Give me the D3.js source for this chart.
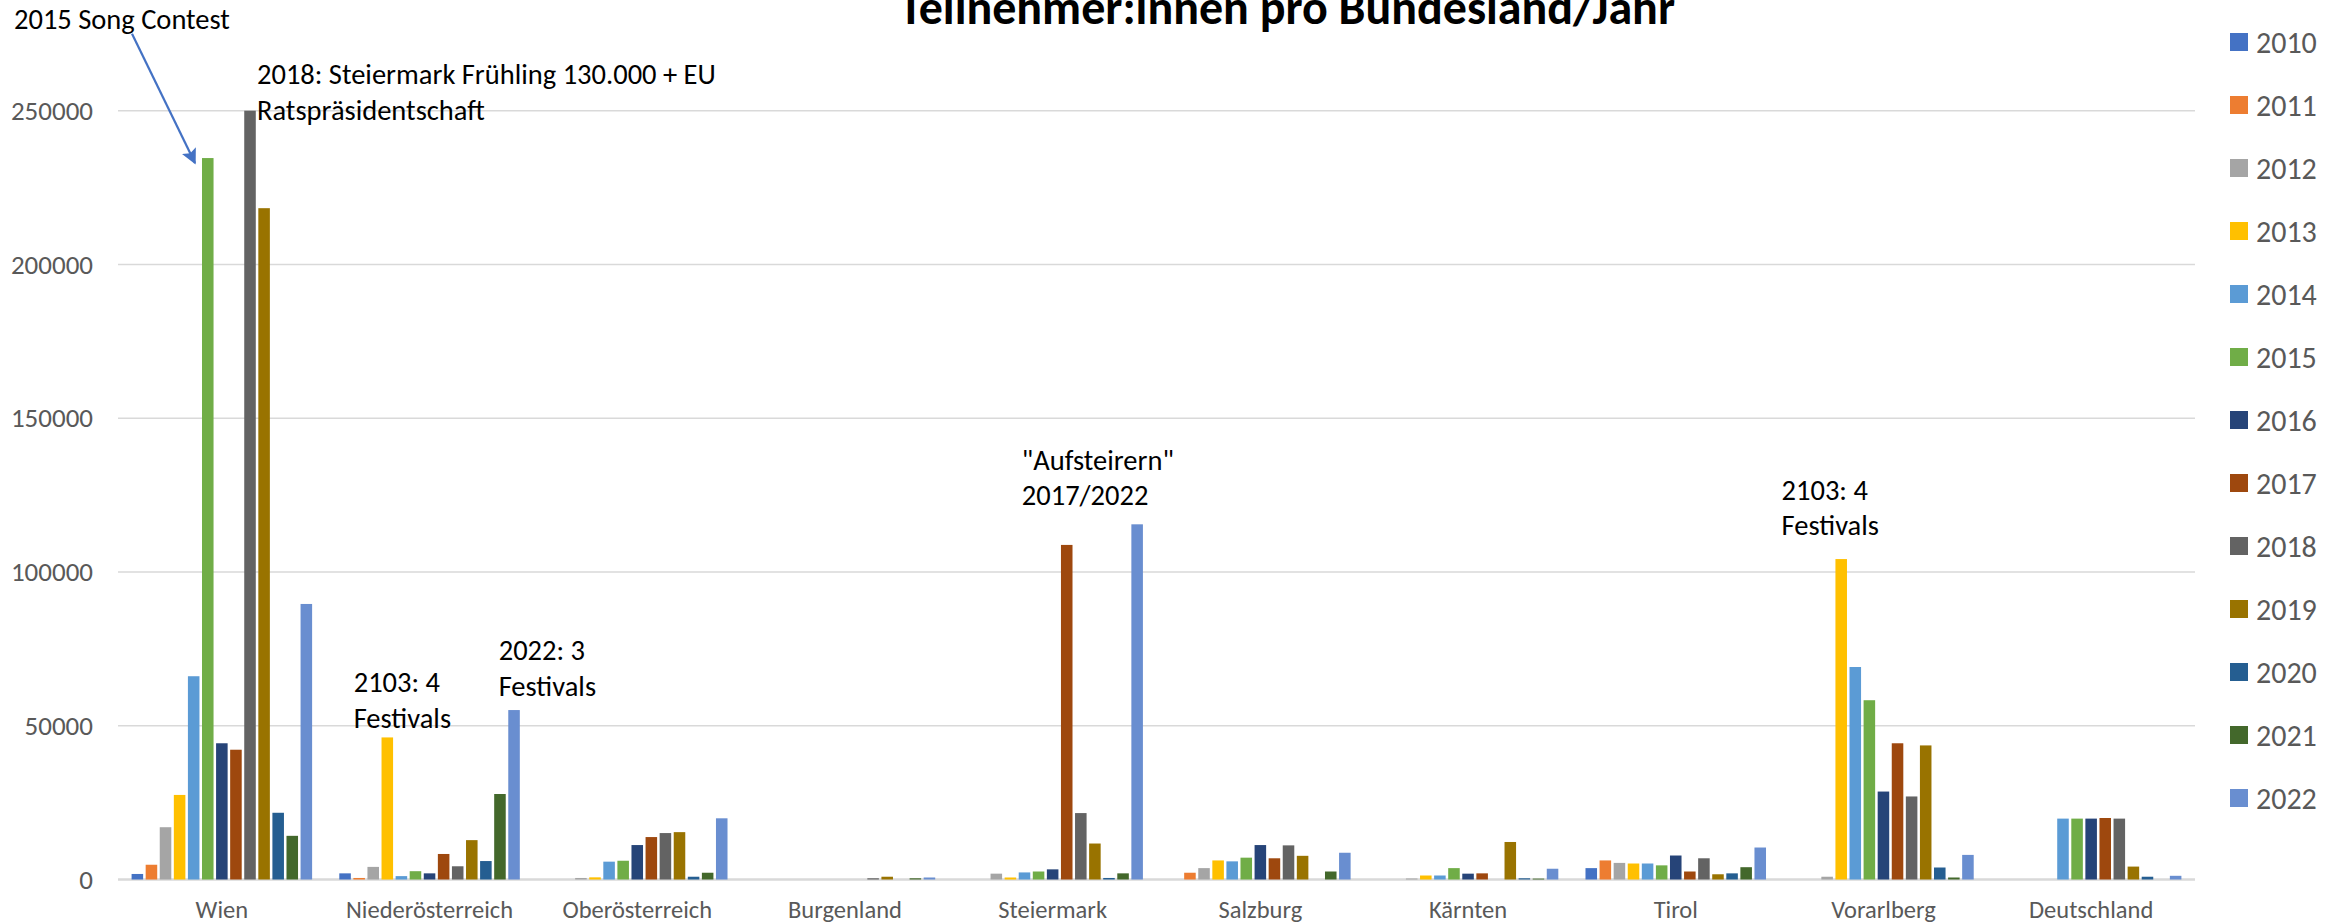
<!DOCTYPE html>
<html>
<head>
<meta charset="utf-8">
<script src="https://cdn.jsdelivr.net/npm/d3@7"></script>
<style>
  body { margin: 0; background: #fff; }
  svg text { font-family: Carlito, Lato, sans-serif; }
</style>
</head>
<body>
<div class="chart"></div>
<script>
// Data
var regions = ["Wien", "Niederösterreich", "Oberösterreich", "Burgenland", "Steiermark",
  "Salzburg", "Kärnten", "Tirol", "Vorarlberg", "Deutschland"];
var years = ["2010", "2011", "2012", "2013", "2014", "2015", "2016", "2017", "2018", "2019", "2020", "2021", "2022"];
var yTicks = [0, 50000, 100000, 150000, 200000, 250000];

// one row per year, one value per region (same order as regions)
var y2010 = [1800, 2000, 0, 0, 0, 0, 0, 3700, 0, 0];
var y2011 = [4800, 500, 0, 0, 0, 2200, 0, 6200, 0, 0];
var y2012 = [17000, 4100, 500, 0, 1900, 3700, 330, 5400, 900, 0];
var y2013 = [27500, 46200, 700, 0, 650, 6200, 1300, 5200, 104200, 0];
var y2014 = [66100, 1100, 5800, 0, 2300, 5900, 1300, 5200, 69100, 19800];
var y2015 = [234600, 2700, 6100, 0, 2600, 7100, 3700, 4600, 58300, 19800];
var y2016 = [44300, 2000, 11200, 0, 3300, 11200, 1900, 7800, 28600, 19800];
var y2017 = [42200, 8300, 13800, 0, 108800, 6900, 2000, 2600, 44300, 20000];
var y2018 = [250000, 4300, 15100, 400, 21600, 11100, 0, 6900, 27000, 19800];
var y2019 = [218300, 12800, 15400, 900, 11700, 7700, 12200, 1700, 43600, 4200];
var y2020 = [21700, 6000, 900, 0, 500, 0, 400, 2000, 3900, 900];
var y2021 = [14200, 27800, 2200, 400, 2000, 2600, 300, 4000, 650, 0];
var y2022 = [89600, 55100, 19900, 650, 115500, 8700, 3500, 10400, 8000, 1200];
var series = [y2010, y2011, y2012, y2013, y2014, y2015, y2016, y2017, y2018, y2019, y2020, y2021, y2022];

var colors = ["#4472C4", "#ED7D31", "#A5A5A5", "#FFC000", "#5B9BD5", "#70AD47", "#264478",
  "#9E480E", "#636363", "#997300", "#255E91", "#43682B", "#698ED0"];

// annotations: anchored at a region (x offset from band start) and a value (first baseline)
var notes = [
  { region: "Wien", dx: -104, value: 276500, lines: ["2015 Song Contest"] },
  { region: "Wien", dx: 139, value: 258600, lines: ["2018: Steiermark Frühling 130.000 + EU", "Ratspräsidentschaft"] },
  { region: "Niederösterreich", dx: 28, value: 60900, lines: ["2103: 4", "Festivals"] },
  { region: "Niederösterreich", dx: 173, value: 71300, lines: ["2022: 3", "Festivals"] },
  { region: "Steiermark", dx: 73, value: 133300, lines: ["\"Aufsteirern\"", "2017/2022"] },
  { region: "Vorarlberg", dx: 2, value: 123500, lines: ["2103: 4", "Festivals"] }
];

// Setup chart
var svgWidth = 2346;
var svgHeight = 924;
var margin = { top: 110.7, right: 151, bottom: 44.5, left: 118 };
var width = svgWidth - margin.left - margin.right;
var height = svgHeight - margin.top - margin.bottom;

var svg = d3.select(".chart")
  .append("svg")
  .attr("width", svgWidth)
  .attr("height", svgHeight);
var chart = svg.append("g")
  .attr("transform", "translate(" + margin.left + "," + margin.top + ")");

// Scales
var xScale = d3.scaleBand().domain(regions).range([0, width]);
var xInner = d3.scaleBand().domain(years).range([0, xScale.bandwidth()])
  .paddingInner(0.18).paddingOuter(0.965);
var yScale = d3.scaleLinear().domain([0, 250000]).range([height, 0]);

// Gridlines
chart.selectAll(".grid")
  .data(yTicks)
  .enter().append("line")
  .attr("x1", 0)
  .attr("x2", width)
  .attr("y1", function(d) { return yScale(d); })
  .attr("y2", function(d) { return yScale(d); })
  .attr("stroke", "#d9d9d9")
  .attr("stroke-width", function(d) { return d === 0 ? 2.5 : 1.5; });

// Y axis labels
var leftAxis = d3.axisLeft(yScale).tickValues(yTicks).tickFormat(d3.format("d")).tickSize(0).tickPadding(25);
var yAxis = chart.append("g").call(leftAxis);
yAxis.select(".domain").remove();
yAxis.selectAll("text")
  .attr("font-size", "27px")
  .attr("fill", "#595959");

// X axis labels
var bottomAxis = d3.axisBottom(xScale).tickSize(0).tickPadding(21);
var xAxis = chart.append("g")
  .attr("transform", "translate(0," + height + ")")
  .call(bottomAxis);
xAxis.select(".domain").remove();
xAxis.selectAll("text")
  .attr("font-size", "24.5px")
  .attr("fill", "#595959");

// Bars
var groups = chart.selectAll(".region")
  .data(regions)
  .enter().append("g")
  .attr("transform", function(d) { return "translate(" + xScale(d) + ",0)"; });

groups.selectAll("rect")
  .data(function(d, i) {
    return years.map(function(yr, j) { return { year: yr, idx: j, value: series[j][i] }; });
  })
  .enter().append("rect")
  .filter(function(d) { return d.value > 0; })
  .attr("x", function(d) { return xInner(d.year); })
  .attr("y", function(d) { return yScale(d.value); })
  .attr("width", xInner.bandwidth())
  .attr("height", function(d) { return height - yScale(d.value); })
  .attr("fill", function(d) { return colors[d.idx]; });

// Annotations
var lineGap = 35.5;
notes.forEach(function(n) {
  var t = chart.append("text")
    .attr("x", xScale(n.region) + n.dx)
    .attr("y", yScale(n.value))
    .attr("font-size", "28.5px")
    .attr("fill", "#000");
  n.lines.forEach(function(line, k) {
    t.append("tspan")
      .attr("x", xScale(n.region) + n.dx)
      .attr("dy", k === 0 ? 0 : lineGap)
      .text(line);
  });
});

// Arrow from "2015 Song Contest" to the 2015 Wien bar
svg.append("defs").append("marker")
  .attr("id", "arrowhead")
  .attr("viewBox", "0 0 10 10")
  .attr("refX", 9)
  .attr("refY", 5)
  .attr("markerWidth", 7)
  .attr("markerHeight", 7)
  .attr("orient", "auto")
  .append("path")
  .attr("d", "M0,0 L10,5 L0,10 L2,5 z")
  .attr("fill", "#4472C4");

var x2015 = xScale("Wien") + xInner("2015");
chart.append("line")
  .attr("x1", xScale("Wien") + 14)
  .attr("y1", yScale(275000))
  .attr("x2", x2015 - 7)
  .attr("y2", yScale(y2015[0]) + 5)
  .attr("stroke", "#4472C4")
  .attr("stroke-width", 2.2)
  .attr("marker-end", "url(#arrowhead)");

// Title
svg.append("text")
  .attr("x", 1287)
  .attr("y", 24)
  .attr("text-anchor", "middle")
  .attr("font-size", "48px")
  .attr("font-weight", "bold")
  .attr("fill", "#000")
  .text("Teilnehmer:innen pro Bundesland/Jahr");

// Legend
var legend = svg.selectAll(".legend")
  .data(years)
  .enter().append("g")
  .attr("transform", function(d, i) { return "translate(2230," + (42 + i * 63) + ")"; });
legend.append("rect")
  .attr("x", 0)
  .attr("y", -9)
  .attr("width", 18)
  .attr("height", 18)
  .attr("fill", function(d, i) { return colors[i]; });
legend.append("text")
  .attr("x", 26)
  .attr("y", 0)
  .attr("dy", "0.35em")
  .attr("font-size", "30px")
  .attr("fill", "#595959")
  .text(function(d) { return d; });
</script>
</body>
</html>
